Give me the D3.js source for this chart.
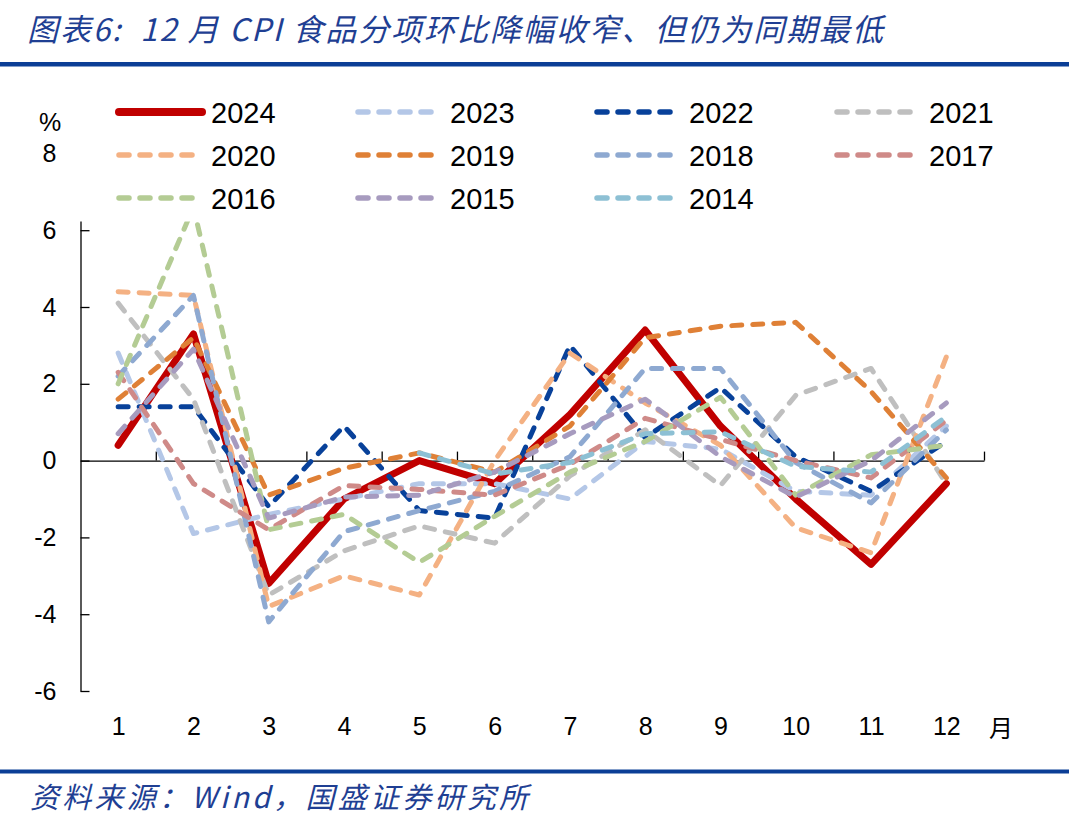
<!DOCTYPE html>
<html><head><meta charset="utf-8">
<script src="https://cdn.jsdelivr.net/npm/d3@7"></script>
<style>
html,body{margin:0;padding:0;background:#fff;}
svg{display:block;}
text{white-space:pre;}
</style></head>
<body>
<svg id="c" width="1069" height="820"></svg>
<script>
// ---- data ----
const months = ["1","2","3","4","5","6","7","8","9","10","11","12"];
const yTicks = [-6,-4,-2,0,2,4,6,8];
const names = ["2024","2023","2022","2021","2020","2019","2018","2017","2016","2015","2014"];
const colors = ["#C00000","#B4C7E7","#08419A","#BFBFBF","#F4B183","#DF8036","#8EA9D1","#CF8A88","#B4CC94","#A79BBF","#8DC0D4"];
const v2024 = [0.4, 3.3, -3.2, -1.0, 0.0, -0.6, 1.2, 3.4, 0.9, -1.0, -2.7, -0.6];
const v2023 = [2.8, -1.9, -1.4, -1.0, -0.6, -0.6, -1.0, 0.5, 0.3, -0.8, -0.9, 0.9];
const v2022 = [1.4, 1.4, -1.2, 0.9, -1.3, -1.5, 3.0, 0.6, 1.9, 0.1, -0.8, 0.5];
const v2021 = [4.1, 1.6, -3.5, -2.35, -1.7, -2.15, -0.4, 0.8, -0.65, 1.7, 2.4, -0.6];
const v2020 = [4.4, 4.3, -3.8, -3.0, -3.5, 0.0, 2.8, 1.5, 0.4, -1.75, -2.4, 2.7];
const v2019 = [1.6, 3.2, -0.9, -0.2, 0.2, -0.3, 0.9, 3.2, 3.5, 3.6, 1.8, -0.45];
const v2018 = [2.2, 4.3, -4.2, -1.85, -1.3, -0.8, 0.1, 2.4, 2.4, -0.05, -1.1, 0.8];
const v2017 = [2.3, -0.6, -1.8, -0.65, -0.75, -0.9, -0.1, 1.1, 0.55, 0.0, -0.45, 1.05];
const v2016 = [2.0, 6.6, -1.8, -1.4, -2.65, -1.45, -0.3, 0.5, 1.65, -0.9, 0.15, 0.4];
const v2015 = [0.7, 2.9, -1.5, -0.95, -0.9, -0.3, 0.7, 1.6, 0.1, -0.95, 0.0, 1.5];
const v2014 = [null, null, null, null, 0.2, -0.35, -0.05, 0.7, 0.75, -0.15, -0.3, 1.15];
const values = [v2024,v2023,v2022,v2021,v2020,v2019,v2018,v2017,v2016,v2015,v2014];

const series = names.map((n,i)=>({name:n, color:colors[i], values:values[i], solid:i===0}));

// ---- layout ----
const svg = d3.select("#c");
const plotL = 80.5, plotR = 984, plotT = 153.4, plotB = 691;
const x = d3.scaleLinear().domain([0, months.length]).range([plotL, plotR]);
const y = d3.scaleLinear().domain([-6, 8]).range([plotB, plotT]);
const fontNum = "'Liberation Sans', Arial, sans-serif";
const fontCJK = "'Noto Sans CJK SC', sans-serif";
const blue = "#0B3E96";

// title
svg.append("text").attr("x",27).attr("y",41)
  .attr("font-family",fontCJK).attr("font-size",31).attr("font-style","italic")
  .attr("fill","#1F3F93").attr("textLength",856).attr("lengthAdjust","spacing")
  .text("图表6:  12 月 CPI 食品分项环比降幅收窄、但仍为同期最低");
svg.append("rect").attr("x",0).attr("y",62).attr("width",1069).attr("height",4.5).attr("fill",blue);

// footer
svg.append("rect").attr("x",0).attr("y",769.5).attr("width",1069).attr("height",4).attr("fill",blue);
svg.append("text").attr("x",30).attr("y",808)
  .attr("font-family",fontCJK).attr("font-size",29).attr("font-style","italic")
  .attr("fill","#1F3F93").attr("textLength",498).attr("lengthAdjust","spacing")
  .text("资料来源：Wind，国盛证券研究所");

// y axis
const gy = svg.append("g").attr("transform",`translate(${plotL},0)`)
  .call(d3.axisLeft(y).tickValues(yTicks).tickSizeInner(-9).tickSizeOuter(0).tickPadding(24)
    .tickFormat(d=>String(d)));
gy.select(".domain").attr("stroke","#000").attr("stroke-width",1.3);
gy.selectAll(".tick line").attr("stroke","#000").attr("stroke-width",1.3);
gy.selectAll(".tick text").attr("font-family",fontNum).attr("font-size",25).attr("fill","#000");

// x axis line with boundary ticks (upward)
const boundaries = d3.range(1, months.length+1);
const gx = svg.append("g").attr("transform",`translate(0,${y(0)})`)
  .call(d3.axisBottom(x).tickValues(boundaries).tickSizeInner(-9).tickSizeOuter(0).tickFormat(""));
gx.select(".domain").attr("stroke","#000").attr("stroke-width",1.3);
gx.selectAll(".tick line").attr("stroke","#000").attr("stroke-width",1.3);

// x labels
const gxl = svg.append("g").attr("transform",`translate(0,709)`)
  .call(d3.axisBottom(x).tickValues(months.map((m,i)=>i+0.5)).tickSize(0).tickPadding(8)
    .tickFormat((d,i)=>months[i]));
gxl.select(".domain").remove();
gxl.selectAll(".tick text").attr("font-family",fontNum).attr("font-size",25).attr("fill","#000");
svg.append("text").attr("x",1001).attr("y",737).attr("text-anchor","middle")
  .attr("font-family",fontCJK).attr("font-size",24).attr("fill","#000").text("月");

// lines
const line = d3.line().defined(d=>d!=null).x((d,i)=>x(i+0.5)).y(d=>y(d));
const dash = "10 11";
series.forEach(s=>{
  svg.append("path").datum(s.values).attr("d",line)
    .attr("fill","none").attr("stroke",s.color)
    .attr("stroke-width", s.solid?7:5)
    .attr("stroke-linecap","round").attr("stroke-linejoin","round")
    .attr("stroke-dasharray", s.solid?null:dash);
});

// legend box (covers top of plot)
svg.append("rect").attr("x",70).attr("y",84).attr("width",960).attr("height",137.5).attr("fill","#fff");
svg.append("text").attr("x",50).attr("y",131).attr("text-anchor","middle")
  .attr("font-family",fontNum).attr("font-size",25).attr("fill","#000").text("%");

const colX = [119, 358, 597, 837];
const rowY = [112, 155, 198];
series.forEach((s,i)=>{
  const cx = colX[i%4], cy = rowY[Math.floor(i/4)];
  svg.append("line").attr("x1",cx).attr("x2",cx+83).attr("y1",cy).attr("y2",cy)
    .attr("stroke",s.color).attr("stroke-width",s.solid?8:5.5)
    .attr("stroke-linecap","round").attr("stroke-dasharray",s.solid?null:dash);
  svg.append("text").attr("x",cx+92).attr("y",cy+10.5)
    .attr("font-family",fontNum).attr("font-size",29).attr("fill","#000").text(s.name);
});
</script>
</body></html>
